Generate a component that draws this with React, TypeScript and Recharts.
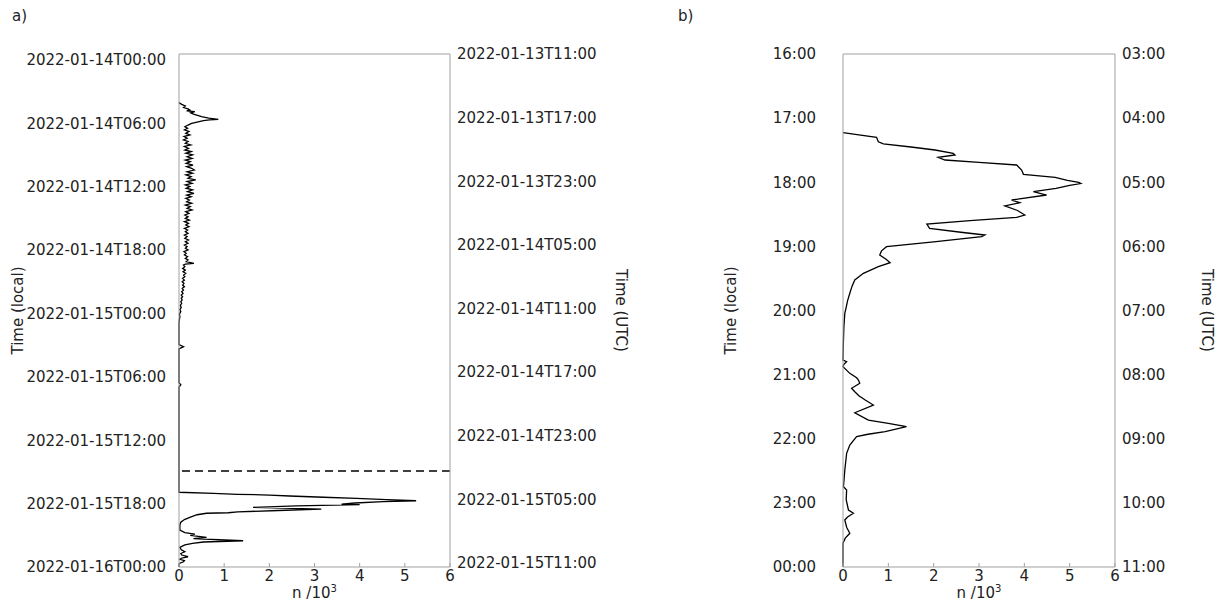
import React from 'react';
import { Label, Line, LineChart, ReferenceLine, XAxis, YAxis } from 'recharts';

const FONT = '"DejaVu Sans", sans-serif';
const TEXT = '#222';
const FRAME = '#a0a0a0';

// n /10^3 axis
const nTicks = [0, 1, 2, 3, 4, 5, 6];

// panel a: hours since 2022-01-14T00:00 local
const aHourTicks = [0, 6, 12, 18, 24, 30, 36, 42, 48];
const aLocalLabels = [
    '2022-01-14T00:00', '2022-01-14T06:00', '2022-01-14T12:00', '2022-01-14T18:00', '2022-01-15T00:00',
    '2022-01-15T06:00', '2022-01-15T12:00', '2022-01-15T18:00', '2022-01-16T00:00',
];
const aUtcLabels = [
    '2022-01-13T11:00', '2022-01-13T17:00', '2022-01-13T23:00', '2022-01-14T05:00', '2022-01-14T11:00',
    '2022-01-14T17:00', '2022-01-14T23:00', '2022-01-15T05:00', '2022-01-15T11:00',
];
const aMarkerHour = 39.32;

const aHours = [
    4.59, 4.75, 4.9, 5.05, 5.18, 5.28, 5.36, 5.44, 5.55, 5.66, 5.78, 5.91, 6.04, 6.16, 6.22, 6.29, 6.42, 6.54, 6.7, 6.86,
    7.0, 7.15, 7.3, 7.48, 7.62, 7.78, 7.95, 8.11, 8.25, 8.42, 8.58, 8.72, 8.9, 9.05, 9.2, 9.36, 9.52, 9.69, 9.85, 10.0,
    10.15, 10.31, 10.47, 10.62, 10.78, 10.94, 11.1, 11.25, 11.4, 11.57, 11.72, 11.88, 12.03, 12.2, 12.35, 12.51, 12.66, 12.82, 12.98, 13.14,
    13.3, 13.45, 13.61, 13.77, 13.93, 14.08, 14.24, 14.4, 14.55, 14.71, 14.87, 15.03, 15.18, 15.34, 15.5, 15.66, 15.81, 15.97, 16.13, 16.29,
    16.44, 16.6, 16.75, 16.91, 17.07, 17.22, 17.38, 17.54, 17.7, 17.85, 18.01, 18.17, 18.32, 18.48, 18.64, 18.79, 18.95, 19.11, 19.27, 19.42,
    19.58, 19.74, 19.82, 19.9, 20.06, 20.22, 20.38, 20.53, 20.69, 20.85, 21.0, 21.16, 21.32, 21.48, 21.63, 21.79, 21.95, 22.1, 22.26, 22.42,
    22.58, 22.73, 22.89, 23.05, 23.2, 23.36, 23.51, 23.7, 23.9, 24.1, 24.3, 24.5, 24.77, 25.0, 25.37, 27.4, 27.6, 27.8, 31.0, 31.2,
    31.4, 41.33, 41.43, 41.52, 41.59, 41.68, 41.8, 41.9, 42.02, 42.13, 42.22, 42.34, 42.44, 42.5, 42.62, 42.75, 42.91, 43.05, 43.18, 43.26,
    43.31, 43.45, 43.69, 43.9, 44.15, 44.42, 44.89, 45.14, 45.27, 45.4, 45.58, 45.71, 45.9, 46.02, 46.15, 46.3, 46.52, 46.75, 46.94, 47.1,
    47.25, 47.41, 47.55, 47.65, 47.78, 47.88, 48.0, 48.1, 48.37,
];
const aCounts = [
    0, 0.06, 0.14, 0.1, 0.2, 0.24, 0.17, 0.35, 0.26, 0.32, 0.41, 0.5, 0.66, 0.87, 0.68, 0.54, 0.4, 0.28, 0.2, 0.13,
    0.19, 0.12, 0.22, 0.15, 0.24, 0.11, 0.18, 0.1, 0.2, 0.14, 0.26, 0.12, 0.21, 0.13, 0.27, 0.15, 0.3, 0.18, 0.29, 0.14,
    0.25, 0.16, 0.31, 0.17, 0.28, 0.34, 0.18, 0.3, 0.15, 0.27, 0.2, 0.37, 0.18, 0.29, 0.14, 0.24, 0.16, 0.3, 0.19, 0.33,
    0.17, 0.27, 0.15, 0.23, 0.17, 0.28, 0.14, 0.25, 0.18, 0.29, 0.15, 0.22, 0.13, 0.2, 0.14, 0.23, 0.12, 0.21, 0.15, 0.22,
    0.12, 0.19, 0.14, 0.2, 0.12, 0.18, 0.13, 0.21, 0.14, 0.2, 0.12, 0.18, 0.14, 0.2, 0.11, 0.16, 0.12, 0.19, 0.14, 0.2,
    0.16, 0.33, 0.14, 0.1, 0.13, 0.08, 0.14, 0.09, 0.15, 0.1, 0.13, 0.08, 0.12, 0.07, 0.11, 0.08, 0.12, 0.07, 0.1, 0.06,
    0.09, 0.05, 0.08, 0.05, 0.07, 0.04, 0.06, 0.03, 0.05, 0.02, 0.04, 0.01, 0.02, 0.01, 0, 0, 0.1, 0, 0, 0.04,
    0, 0, 0.76, 1.3, 2.0, 2.45, 3.2, 3.93, 4.6, 5.25, 4.52, 3.9, 3.6, 4.0, 2.6, 1.64, 3.15, 2.2, 1.3, 1.09,
    0.61, 0.4, 0.24, 0.12, 0.04, 0.02, 0.02, 0.13, 0.35, 0.25, 0.61, 0.32, 1.42, 0.54, 0.3, 0.13, 0.02, 0.05, 0.13, 0.04,
    0.06, 0.2, 0.05, 0.02, 0.12, 0.1, 0.03, 0, 0,
];

// panel b: local clock hours on 2022-01-15
const bHourTicks = [16, 17, 18, 19, 20, 21, 22, 23, 24];
const bLocalLabels = ['16:00', '17:00', '18:00', '19:00', '20:00', '21:00', '22:00', '23:00', '00:00'];
const bUtcLabels = ['03:00', '04:00', '05:00', '06:00', '07:00', '08:00', '09:00', '10:00', '11:00'];

const bHours = [
    17.227, 17.26, 17.299, 17.368, 17.403, 17.45, 17.497, 17.549, 17.575, 17.611, 17.653, 17.69, 17.731, 17.809, 17.876, 17.923, 17.97, 18.0, 18.02, 18.05,
    18.094, 18.147, 18.199, 18.277, 18.319, 18.37, 18.44, 18.511, 18.547, 18.6, 18.651, 18.718, 18.78, 18.823, 18.849, 18.93, 19.005, 19.07, 19.134, 19.2,
    19.255, 19.317, 19.42, 19.524, 19.62, 19.732, 19.85, 19.95, 20.044, 20.25, 20.46, 20.772, 20.798, 20.84, 20.876, 20.98, 21.05, 21.084, 21.135, 21.213,
    21.266, 21.33, 21.396, 21.474, 21.594, 21.708, 21.759, 21.812, 21.89, 21.93, 21.968, 22.097, 22.227, 22.487, 22.748, 22.799, 22.95, 23.111, 23.163, 23.22,
    23.267, 23.38, 23.474, 23.55, 23.63, 24.0,
];
const bCounts = [
    0, 0.35, 0.74, 0.78, 0.89, 1.5, 2.03, 2.43, 2.47, 2.1, 2.25, 3.0, 3.83, 3.94, 3.98, 4.68, 4.95, 5.2, 5.25, 5.0,
    4.7, 4.2, 4.49, 3.72, 3.9, 3.57, 3.85, 4.01, 3.83, 2.8, 1.85, 1.91, 2.6, 3.13, 3.06, 2.0, 0.96, 0.85, 0.81, 0.95,
    1.04, 0.78, 0.45, 0.26, 0.2, 0.15, 0.1, 0.07, 0.04, 0.02, 0.01, 0, 0.08, 0.02, 0, 0.15, 0.3, 0.34, 0.37, 0.19,
    0.26, 0.35, 0.49, 0.67, 0.26, 0.56, 1.0, 1.4, 0.93, 0.55, 0.3, 0.15, 0.08, 0.04, 0.01, 0.08, 0.07, 0.12, 0.23, 0.1,
    0.04, 0.08, 0.15, 0.05, 0, 0,
];

const aData = aHours.map((h, i) => ({ h, v: aCounts[i] }));
const bData = bHours.map((h, i) => ({ h, v: bCounts[i] }));

const textStyle = { fill: TEXT, fontSize: 15, fontFamily: FONT };

const FrameTick = (props: any) => {
    const { x, y, payload, side } = props;
    if (side === 'top') {
        return <line x1={x} x2={x} y1={y} y2={y + 4} stroke={FRAME} />;
    }
    const axisY = y - 3;
    return (
        <g>
            <line x1={x} x2={x} y1={axisY} y2={axisY - 4} stroke={FRAME} />
            <text x={x} y={y} dy="0.71em" textAnchor="middle" {...textStyle}>
                {payload.value}
            </text>
        </g>
    );
};

const vTitle = (text: string, dx: number, rot: number) => (p: any) => {
    const vb = p.viewBox;
    const cx = vb.x + dx;
    const cy = vb.y + vb.height / 2;
    return (
        <text x={cx} y={cy} transform={`rotate(${rot} ${cx} ${cy})`} textAnchor="middle" dominantBaseline="central" {...textStyle}>
            {text}
        </text>
    );
};

const nTitle = (p: any) => {
    const vb = p.viewBox;
    return (
        <text x={vb.x + vb.width / 2} y={vb.y + 31} textAnchor="middle" {...textStyle}>
            n /10
            <tspan dy={-6} fontSize={10}>3</tspan>
        </text>
    );
};

type PanelProps = {
    data: { h: number; v: number }[];
    ticks: number[];
    localLabels: string[];
    utcLabels: string[];
    localDomain: [number, number];
    utcDomain: [number, number];
    dataAxis: 'local' | 'utc';
    width: number;
    leftW: number;
    rightW: number;
    leftMargin: number;
    leftTitleX: number;
    rightTitleX: number;
    marker?: number;
};

const Panel = (props: PanelProps) => (
    <LineChart
        layout="vertical"
        width={props.width}
        height={601}
        data={props.data}
        margin={{ top: 44, right: 0, bottom: 0, left: 0 }}
    >
        <XAxis
            xAxisId="top"
            orientation="top"
            type="number"
            domain={[0, 6]}
            ticks={nTicks}
            height={10}
            interval={0}
            stroke={FRAME}
            tickSize={0}
            tickMargin={0}
            tick={<FrameTick side="top" />}
        />
        <XAxis
            xAxisId="bottom"
            orientation="bottom"
            type="number"
            domain={[0, 6]}
            ticks={nTicks}
            height={34}
            interval={0}
            stroke={FRAME}
            tickSize={0}
            tickMargin={3}
            tick={<FrameTick side="bottom" />}
        >
            <Label content={nTitle} />
        </XAxis>
        <YAxis
            yAxisId="local"
            orientation="left"
            type="number"
            dataKey="h"
            allowDataOverflow
            domain={props.localDomain}
            ticks={props.ticks}
            interval={0}
            width={props.leftW}
            stroke={FRAME}
            tickLine={false}
            tickSize={0}
            tickMargin={props.leftMargin}
            tick={textStyle}
            tickFormatter={(v: number) => props.localLabels[props.ticks.indexOf(v)]}
        >
            <Label content={vTitle('Time (local)', props.leftTitleX, -90)} />
        </YAxis>
        <YAxis
            yAxisId="utc"
            orientation="right"
            type="number"
            dataKey="h"
            allowDataOverflow
            domain={props.utcDomain}
            ticks={props.ticks}
            interval={0}
            width={props.rightW}
            stroke={FRAME}
            tickLine={false}
            tickSize={0}
            tickMargin={7}
            tick={textStyle}
            tickFormatter={(v: number) => props.utcLabels[props.ticks.indexOf(v)]}
        >
            <Label content={vTitle('Time (UTC)', props.rightTitleX, 90)} />
        </YAxis>
        {props.marker !== undefined && (
            <ReferenceLine
                y={props.marker}
                yAxisId={props.dataAxis}
                xAxisId="bottom"
                stroke="#000"
                strokeWidth={1.5}
                strokeDasharray="8 5"
            />
        )}
        <Line
            xAxisId="bottom"
            yAxisId={props.dataAxis}
            dataKey="v"
            type="linear"
            stroke="#000"
            strokeWidth={1.3}
            dot={false}
            isAnimationActive={false}
        />
    </LineChart>
);

export default function App() {
    return (
        <div style={{ position: 'absolute', left: 0, top: 0, width: 1220, height: 601, background: '#fff', fontFamily: FONT }}>
            <div style={{ position: 'absolute', left: 12, top: 7, fontSize: 15, color: TEXT }}>a)</div>
            <div style={{ position: 'absolute', left: 678, top: 7, fontSize: 15, color: TEXT }}>b)</div>
            <div style={{ position: 'absolute', left: 0, top: 0 }}>
                <Panel
                    data={aData}
                    ticks={aHourTicks}
                    localLabels={aLocalLabels}
                    utcLabels={aUtcLabels}
                    localDomain={[-0.568, 48]}
                    utcDomain={[0, 48.377]}
                    dataAxis="utc"
                    width={640}
                    leftW={179}
                    rightW={190}
                    leftMargin={13}
                    leftTitleX={18}
                    rightTitleX={171}
                    marker={aMarkerHour}
                />
            </div>
            <div style={{ position: 'absolute', left: 660, top: 0 }}>
                <Panel
                    data={bData}
                    ticks={bHourTicks}
                    localLabels={bLocalLabels}
                    utcLabels={bUtcLabels}
                    localDomain={[16, 24]}
                    utcDomain={[16, 24]}
                    dataAxis="local"
                    width={560}
                    leftW={183}
                    rightW={105}
                    leftMargin={27}
                    leftTitleX={71}
                    rightTitleX={92}
                />
            </div>
        </div>
    );
}
